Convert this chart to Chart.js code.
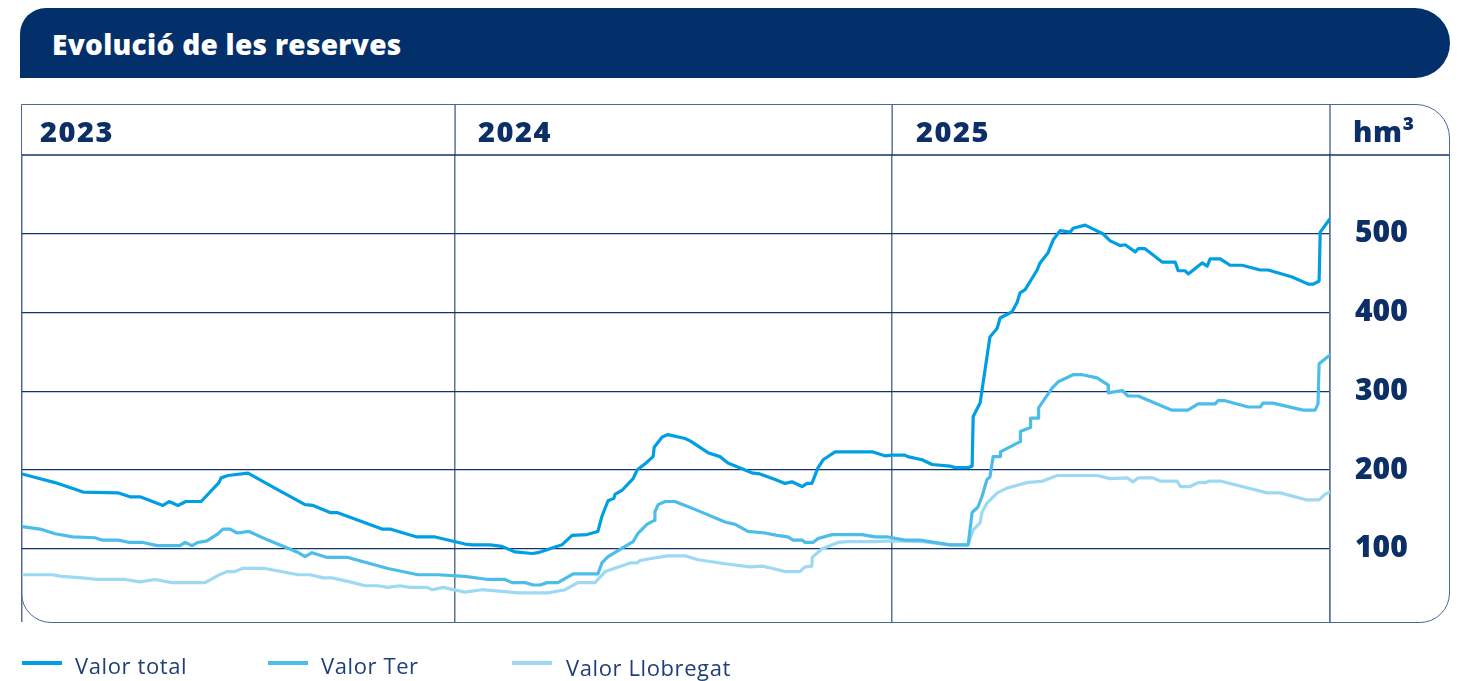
<!DOCTYPE html>
<html>
<head>
<meta charset="utf-8">
<script src="https://cdn.jsdelivr.net/npm/chart.js@4.4.1/dist/chart.umd.min.js"></script>
<style>
body { margin: 0; width: 1459px; height: 681px; background: #fff; position: relative; overflow: hidden; font-family: "Open Sans", Lato, sans-serif; }
#banner { position: absolute; left: 20px; top: 8px; width: 1430px; height: 70px; background: #03306b; border-radius: 26px 35px 35px 0; }
#banner span { position: absolute; left: 32px; top: 20px; color: #fff; font-weight: 800; font-size: 28px; line-height: 32px; letter-spacing: 0.3px; }
#box { position: absolute; left: 21px; top: 104px; width: 1429px; height: 519px; box-sizing: border-box; border: 1.5px solid #4d6794; border-radius: 0 34px 30px 30px; pointer-events: none; }
.hd { position: absolute; top: 116px; color: #0b2f66; font-weight: 800; font-size: 29px; line-height: 30px; letter-spacing: 1.5px; }
#wrap { position: absolute; left: 0; top: 0; width: 1459px; height: 681px; }
.lgline { position: absolute; top: 661px; width: 40px; height: 4px; }
.lgtext { position: absolute; top: 651px; font-size: 22px; line-height: 28px; color: #1f3f77; letter-spacing: 0.6px; }
</style>
</head>
<body>
<div id="banner"><span>Evolució de les reserves</span></div>
<div id="wrap"><canvas id="chart" width="1459" height="681"></canvas></div>
<div id="box"></div>
<div class="hd" style="left:40px">2023</div>
<div class="hd" style="left:478px">2024</div>
<div class="hd" style="left:916px">2025</div>
<div class="hd" style="left:1353px;letter-spacing:0.5px">hm³</div>

<div class="lgline" style="left:22px;background:#009fe3"></div>
<div class="lgtext" style="left:75px">Valor total</div>
<div class="lgline" style="left:268px;background:#4bbde8"></div>
<div class="lgtext" style="left:321px">Valor Ter</div>
<div class="lgline" style="left:512px;background:#9dd9f3"></div>
<div class="lgtext" style="left:566px;top:653px">Valor Llobregat</div>

<script>
// x = months since January 2023, y = hm3
var yearStarts = [0, 11.92, 23.95, 36];
var yTicks = [100, 200, 300, 400, 500];

var totalMonths = [0, 0.91, 1.68, 2.64, 2.97, 3.25, 3.88, 4.05, 4.29, 4.51, 4.93, 5.42, 5.48, 5.67, 6.22, 6.96, 7.79, 8.01, 8.48, 8.67,
    9.91, 10.13, 10.87, 11.37, 12.19, 12.39, 12.88, 13.21, 13.57, 14.04, 14.2, 14.86, 15.14, 15.55, 15.85, 15.96, 16.13, 16.29, 16.32, 16.51,
    16.82, 16.93, 17.15, 17.37, 17.4, 17.62, 17.78, 18.25, 18.39, 18.88, 19.21, 19.43, 20.12, 20.31, 20.73, 21, 21.19, 21.47, 21.61, 21.74,
    21.91, 22.05, 22.38, 23.42, 23.75, 23.95, 24.3, 24.38, 24.77, 25.05, 25.54, 25.68, 26.04, 26.15, 26.18, 26.37, 26.64, 26.84, 26.92, 27.25,
    27.39, 27.47, 27.61, 27.94, 28.02, 28.24, 28.38, 28.57, 28.85, 28.93, 29.26, 29.75, 29.95, 30.22, 30.36, 30.64, 30.72, 30.91, 31.38, 31.74,
    31.82, 32.01, 32.1, 32.48, 32.62, 32.7, 32.98, 33.25, 33.58, 34.08, 34.3, 34.96, 35.4, 35.54, 35.7, 35.73, 35.92, 36];
var totalValues = [195, 184, 172, 171, 166, 166, 155, 160, 155, 160, 160, 184, 190, 193, 196, 177, 156, 155, 146, 146,
    125, 125, 115, 115, 106, 105, 105, 103, 96, 94, 95, 105, 117, 118, 122, 141, 161, 164, 169, 174,
    189, 200, 208, 217, 229, 242, 245, 240, 237, 222, 217, 209, 196, 195, 188, 183, 185, 179, 183, 183,
    203, 213, 223, 223, 218, 219, 219, 217, 213, 207, 205, 203, 203, 205, 268, 285, 369, 380, 393, 401,
    413, 425, 429, 454, 463, 476, 492, 504, 502, 507, 511, 500, 491, 485, 486, 477, 481, 481, 464, 464,
    453, 453, 449, 463, 459, 468, 468, 460, 460, 454, 454, 445, 436, 436, 440, 502, 514, 519];

var terMonths = [0, 0.5, 0.91, 1.4, 2.01, 2.2, 2.64, 2.97, 3.33, 3.72, 4.35, 4.49, 4.68, 4.84, 5.09, 5.39, 5.53, 5.73, 5.92, 6.25,
    6.77, 7.57, 7.79, 7.98, 8.4, 8.97, 10.07, 10.9, 11.45, 12.19, 12.83, 13.29, 13.49, 13.85, 14.07, 14.26, 14.45, 14.75, 15.17, 15.85,
    15.96, 16.13, 16.6, 16.82, 16.96, 17.2, 17.4, 17.42, 17.51, 17.7, 17.97, 18.25, 18.52, 19.35, 19.63, 19.98, 20.45, 20.78, 21.08, 21.22,
    21.47, 21.55, 21.77, 21.91, 22.3, 23.12, 23.48, 23.84, 24.3, 24.72, 25.54, 26.04, 26.15, 26.31, 26.42, 26.56, 26.64, 26.7, 26.73, 26.92,
    26.93, 27.47, 27.48, 27.75, 27.76, 27.97, 27.98, 28.35, 28.52, 28.93, 29.18, 29.59, 29.89, 29.9, 30.28, 30.44, 30.72, 31.65, 32.09, 32.37,
    32.84, 32.92, 33.11, 33.75, 34.08, 34.16, 34.43, 35.26, 35.59, 35.67, 35.7, 36];
var terValues = [128, 125, 119, 115, 114, 111, 111, 108, 108, 104, 104, 108, 104, 108, 110, 119, 125, 125, 120, 122,
    111, 96, 90, 95, 89, 89, 75, 67, 67, 65, 61, 61, 57, 57, 54, 54, 57, 57, 68, 68,
    82, 90, 103, 109, 120, 131, 136, 147, 156, 160, 160, 155, 150, 134, 131, 122, 120, 117, 115, 111,
    111, 108, 108, 113, 118, 118, 115, 115, 111, 111, 105, 105, 146, 153, 166, 188, 191, 209, 217, 217,
    223, 236, 249, 254, 266, 266, 279, 304, 312, 321, 321, 317, 308, 298, 301, 294, 294, 276, 276, 284,
    284, 288, 288, 280, 280, 285, 285, 276, 276, 284, 335, 346];

var llobMonths = [0, 0.83, 1.1, 1.65, 2.09, 2.84, 3.25, 3.66, 4.13, 5.04, 5.39, 5.64, 5.86, 6.06, 6.69, 7.6, 7.93, 8.29, 8.53, 9.03,
    9.44, 9.8, 10.07, 10.4, 10.68, 11.15, 11.29, 11.59, 12.19, 12.66, 13.43, 13.65, 14.48, 14.95, 15.3, 15.77, 16.05, 16.74, 16.93, 17.01,
    17.23, 17.64, 17.75, 18.25, 18.61, 19.35, 20.04, 20.37, 20.67, 21, 21.41, 21.55, 21.74, 21.75, 22.02, 22.46, 22.74, 23.48, 23.95, 24.8,
    25.54, 26.04, 26.18, 26.37, 26.42, 26.56, 26.84, 27.11, 27.42, 27.66, 28.1, 28.49, 29.59, 29.95, 30.42, 30.58, 30.72, 31.13, 31.32, 31.79,
    31.88, 32.15, 32.37, 32.56, 32.7, 32.98, 34.27, 34.63, 35.37, 35.7, 35.86, 36];
var llobValues = [67, 67, 65, 63, 61, 61, 58, 61, 57, 57, 66, 71, 71, 75, 75, 67, 67, 63, 63, 58,
    53, 53, 51, 53, 51, 51, 48, 51, 45, 48, 45, 44, 44, 48, 57, 57, 71, 82, 82, 85,
    87, 90, 91, 91, 86, 81, 77, 78, 75, 71, 71, 77, 78, 89, 100, 108, 109, 109, 110, 109,
    105, 105, 124, 133, 146, 158, 171, 177, 181, 184, 186, 193, 193, 189, 190, 185, 190, 190, 186, 186,
    179, 179, 184, 184, 186, 186, 171, 171, 162, 162, 169, 172];

function pairs(xs, ys) {
    return xs.map(function (x, i) { return { x: x, y: ys[i] }; });
}

function line_set(label, xs, ys, color) {
    return {
        label: label,
        data: pairs(xs, ys),
        borderColor: color,
        borderWidth: 3.2,
        borderJoinStyle: 'round',
        borderCapStyle: 'round',
        pointRadius: 0,
        tension: 0,
        fill: false
    };
}

var headerLines = {
    id: 'headerLines',
    afterDraw: function (chart) {
        var ctx = chart.ctx;
        var area = chart.chartArea;
        ctx.save();
        ctx.strokeStyle = '#5d7299';
        ctx.lineWidth = 1.5;
        ctx.beginPath();
        yearStarts.slice(1).forEach(function (v) {
            var x = chart.scales.x.getPixelForValue(v);
            ctx.moveTo(x, 105);
            ctx.lineTo(x, area.top);
        });
        ctx.stroke();
        ctx.strokeStyle = '#13336a';
        ctx.beginPath();
        ctx.moveTo(area.left, area.top);
        ctx.lineTo(1450, area.top);
        ctx.stroke();
        ctx.restore();
    }
};

var ctx = document.getElementById('chart').getContext('2d');
var myChart = new Chart(ctx, {
    type: 'line',
    data: {
        datasets: [
            line_set('Valor total', totalMonths, totalValues, '#009fe3'),
            line_set('Valor Ter', terMonths, terValues, '#4bbde8'),
            line_set('Valor Llobregat', llobMonths, llobValues, '#9dd9f3')
        ]
    },
    options: {
        responsive: false,
        animation: false,
        layout: { padding: { top: 155, left: 22, bottom: 59, right: 9 } },
        plugins: { legend: { display: false }, tooltip: { enabled: false } },
        scales: {
            x: {
                type: 'linear',
                min: 0,
                max: 36,
                afterBuildTicks: function (s) { s.ticks = yearStarts.map(function (v) { return { value: v }; }); },
                afterFit: function (s) { s.height = 0; },
                ticks: { display: false },
                grid: { color: '#5d7299', lineWidth: 1.5, drawTicks: false },
                border: { display: false }
            },
            y: {
                position: 'right',
                min: 7,
                max: 600,
                afterBuildTicks: function (s) { s.ticks = yTicks.map(function (v) { return { value: v }; }); },
                afterFit: function (s) { s.width = 120; },
                ticks: {
                    padding: 25,
                    color: '#0b2f66',
                    font: { family: 'Open Sans', weight: '800', size: 30 }
                },
                grid: { color: '#13336a', lineWidth: 1.3, drawTicks: false },
                border: { display: true, color: '#5d7299', width: 1.5 }
            }
        }
    },
    plugins: [headerLines]
});
</script>
</body>
</html>
